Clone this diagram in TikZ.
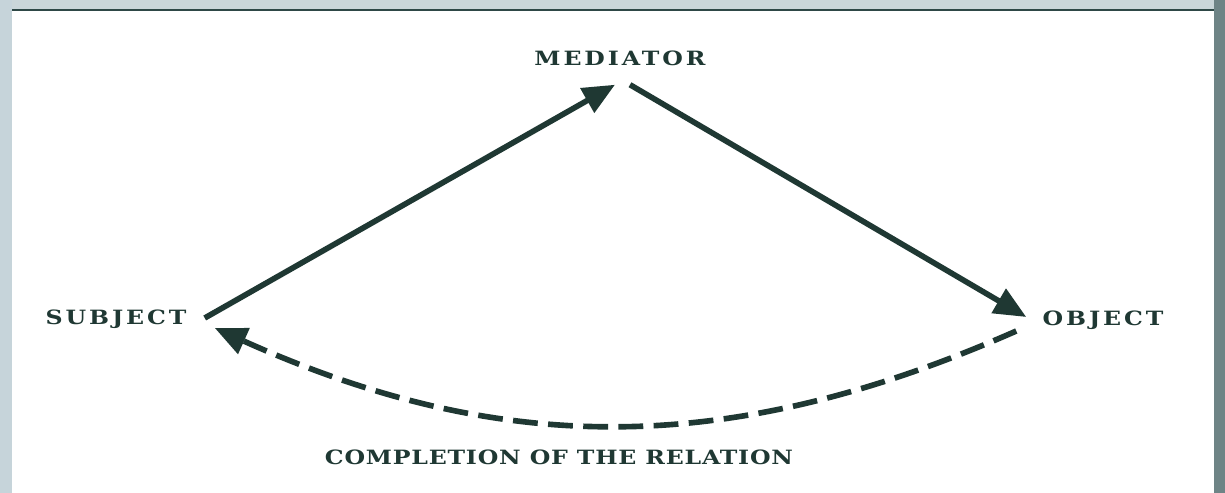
\documentclass[tikz,border=0pt]{standalone}
\usepackage{fontspec}
\usepackage{tikz}
\usetikzlibrary{arrows.meta,calc}
\newfontfamily\termfont[FakeStretch=1.2,LetterSpace=15]{DejaVu Serif}
\newfontfamily\relfont[FakeStretch=1.2,LetterSpace=4]{DejaVu Serif}
\definecolor{ink}{HTML}{1F3833}
\definecolor{frameleft}{HTML}{C6D4DA}
\definecolor{frametop}{HTML}{CAD6D9}
\definecolor{frameright}{HTML}{6E8486}
\definecolor{frameline}{HTML}{2E4846}
\tikzset{
  term/.style={text=ink,font=\termfont\bfseries\fontsize{14}{16}\selectfont,inner sep=0pt},
  caption/.style={term,font=\relfont\bfseries\fontsize{14}{16}\selectfont},
  link/.style={-{Triangle[length=0.8cm,width=0.68cm]},draw=ink,line width=4pt},
  completion/.style={link,dash pattern=on 0.62cm off 0.26cm}
}
\begin{document}
\begin{tikzpicture}[x=0.025cm,y=-0.025cm]
  \useasboundingbox (0,0) rectangle (1225,493);
  % scanned frame
  \fill[white] (0,0) rectangle (1225,493);
  \fill[frametop] (0,0) rectangle (1225,9);
  \fill[frameleft] (0,0) rectangle (12,493);
  \fill[frameright] (1214,0) rectangle (1225,493);
  \draw[frameline,line width=1.4pt] (12,10) -- (1214,10);

  \node[term] (med) at (620,58) {MEDIATOR};
  \node[term] (subj) at (116,319) {SUBJECT};
  \node[term] (obj) at (1103,320) {OBJECT};
  \node[caption] (rel) at (559,457) {COMPLETION OF THE RELATION};

  \draw[link] ($(subj.east)+(18,-1)$) -- ($(med.south)+(-5,19)$);
  \draw[link] ($(med.south)+(10,19)$) -- ($(obj.west)+(-16,-3)$);
  \draw[completion] ($(obj.west)+(-26,11)$) to[bend left=24] ($(subj.east)+(28,9)$);
\end{tikzpicture}
\end{document}
